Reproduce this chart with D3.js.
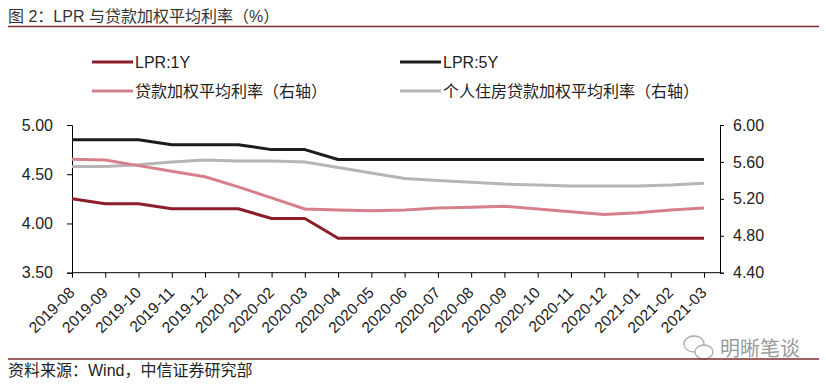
<!DOCTYPE html>
<html>
<head>
<meta charset="utf-8">
<script src="https://cdn.jsdelivr.net/npm/d3@7/dist/d3.min.js"></script>
<style>
  html, body { margin: 0; padding: 0; background: #fff; }
  svg { display: block; }
  text { font-family: "Liberation Sans", Arial, "Noto Sans CJK SC", sans-serif; }
</style>
</head>
<body>
<svg id="chart" width="826" height="385"></svg>
<script>
// ---- data ----
const categories = ["2019-08","2019-09","2019-10","2019-11","2019-12","2020-01","2020-02","2020-03","2020-04","2020-05","2020-06","2020-07","2020-08","2020-09","2020-10","2020-11","2020-12","2021-01","2021-02","2021-03"];
const lpr1y = [4.25,4.20,4.20,4.15,4.15,4.15,4.05,4.05,3.85,3.85,3.85,3.85,3.85,3.85,3.85,3.85,3.85,3.85,3.85,3.85];
const lpr5y = [4.85,4.85,4.85,4.80,4.80,4.80,4.75,4.75,4.65,4.65,4.65,4.65,4.65,4.65,4.65,4.65,4.65,4.65,4.65,4.65];
const loanRate = [5.63,5.62,5.56,5.50,5.44,5.33,5.21,5.09,5.08,5.07,5.08,5.10,5.11,5.12,5.09,5.06,5.03,5.05,5.08,5.10];
const mortgageRate = [5.55,5.55,5.57,5.60,5.62,5.61,5.61,5.60,5.54,5.48,5.42,5.40,5.38,5.36,5.35,5.34,5.34,5.34,5.35,5.37];
const leftTicks = [3.50,4.00,4.50,5.00];
const rightTicks = [4.40,4.80,5.20,5.60,6.00];
const seriesNames = ["LPR:1Y","LPR:5Y","贷款加权平均利率（右轴）","个人住房贷款加权平均利率（右轴）"];
const titleText = "图 2：LPR 与贷款加权平均利率（%）";
const sourceText = "资料来源：Wind，中信证券研究部";
const watermarkText = "明晰笔谈";

// ---- layout ----
const svg = d3.select("#chart");
const colors = ["#8e1d2b", "#1c1c1c", "#d6808b", "#b5b5b5"];
const plotTop = 125, plotBottom = 272.7, axisLeft = 72, axisRight = 720;

const x = d3.scalePoint().domain(categories).range([72, 704]);
const yL = d3.scaleLinear().domain([3.5, 5.0]).range([plotBottom, plotTop]);
const yR = d3.scaleLinear().domain([4.4, 6.0]).range([plotBottom, plotTop]);

svg.append("rect").attr("width", 826).attr("height", 385).attr("fill", "#fff");

// title
svg.append("text").attr("x", 8).attr("y", 22).attr("font-size", 16).attr("fill", "#333")
  .text(titleText);
svg.append("line").attr("x1", 8).attr("x2", 819).attr("y1", 26.5).attr("y2", 26.5)
  .attr("stroke", "#7d2a2d").attr("stroke-width", 1.3);

// legend
const legendItems = [
  {name: seriesNames[0], color: colors[0], x: 92, y: 62},
  {name: seriesNames[1], color: colors[1], x: 400, y: 62},
  {name: seriesNames[2], color: colors[2], x: 92, y: 91},
  {name: seriesNames[3], color: colors[3], x: 400, y: 91}
];
const lg = svg.append("g");
legendItems.forEach(d => {
  lg.append("line").attr("x1", d.x).attr("x2", d.x + 41).attr("y1", d.y).attr("y2", d.y)
    .attr("stroke", d.color).attr("stroke-width", 3);
  lg.append("text").attr("x", d.x + 43).attr("y", d.y).attr("dy", "0.36em")
    .attr("font-size", 16).attr("fill", "#222").text(d.name);
});

// axes
const gL = svg.append("g").attr("transform", `translate(${axisLeft},0)`)
  .call(d3.axisLeft(yL).tickValues(leftTicks).tickFormat(d3.format(".2f")).tickSizeOuter(0).tickSize(5).tickPadding(14));
const gR = svg.append("g").attr("transform", `translate(${axisRight},0)`)
  .call(d3.axisRight(yR).tickValues(rightTicks).tickFormat(d3.format(".2f")).tickSizeOuter(0).tickSize(4).tickPadding(9));
const gX = svg.append("g").attr("transform", `translate(0,${plotBottom})`)
  .call(d3.axisBottom(x).tickSize(5).tickSizeOuter(0));
gX.select(".domain").remove();
svg.append("line").attr("x1", axisLeft).attr("x2", axisRight).attr("y1", plotBottom).attr("y2", plotBottom)
  .attr("stroke", "#000").attr("stroke-width", 1);

[gL, gR].forEach(g => {
  g.selectAll("text").attr("font-size", 16).attr("fill", "#222")
    .style("font-family", "'Liberation Sans', Arial, sans-serif");
  g.select(".domain").attr("stroke", "#000");
  g.selectAll(".tick line").attr("stroke", "#000");
});
gX.selectAll(".tick line").attr("stroke", "#000");
gX.selectAll("text")
  .attr("font-size", 15.5).attr("fill", "#222")
  .style("font-family", "'Liberation Sans', Arial, sans-serif")
  .attr("text-anchor", "end")
  .attr("x", 0).attr("y", 0).attr("dy", 0)
  .attr("transform", "translate(3,21) rotate(-45)");

// lines
const seriesList = [
  {values: lpr1y, scale: yL, color: colors[0]},
  {values: lpr5y, scale: yL, color: colors[1]},
  {values: mortgageRate, scale: yR, color: colors[3]},
  {values: loanRate, scale: yR, color: colors[2]}
];
seriesList.forEach(s => {
  const line = d3.line().x((d, i) => x(categories[i])).y(d => s.scale(d));
  svg.append("path").datum(s.values).attr("d", line)
    .attr("fill", "none").attr("stroke", s.color).attr("stroke-width", 3)
    .attr("stroke-linejoin", "round");
});

// watermark
const wm = svg.append("g").attr("fill", "none").attr("stroke", "#aaa").attr("stroke-width", 1.3);
wm.append("ellipse").attr("cx", 694).attr("cy", 344).attr("rx", 10).attr("ry", 8);
wm.append("ellipse").attr("cx", 704).attr("cy", 352).attr("rx", 9).attr("ry", 7).attr("fill", "#fff");
svg.append("text").attr("x", 720).attr("y", 356).attr("font-size", 20).attr("fill", "#9a9a9a")
  .style("font-family", "'Noto Sans CJK SC', sans-serif").text(watermarkText);

// bottom rule & source
svg.append("line").attr("x1", 8).attr("x2", 819).attr("y1", 359).attr("y2", 359)
  .attr("stroke", "#7d2a2d").attr("stroke-width", 1.3);
svg.append("text").attr("x", 8).attr("y", 376).attr("font-size", 16).attr("fill", "#222")
  .text(sourceText);
</script>
</body>
</html>
